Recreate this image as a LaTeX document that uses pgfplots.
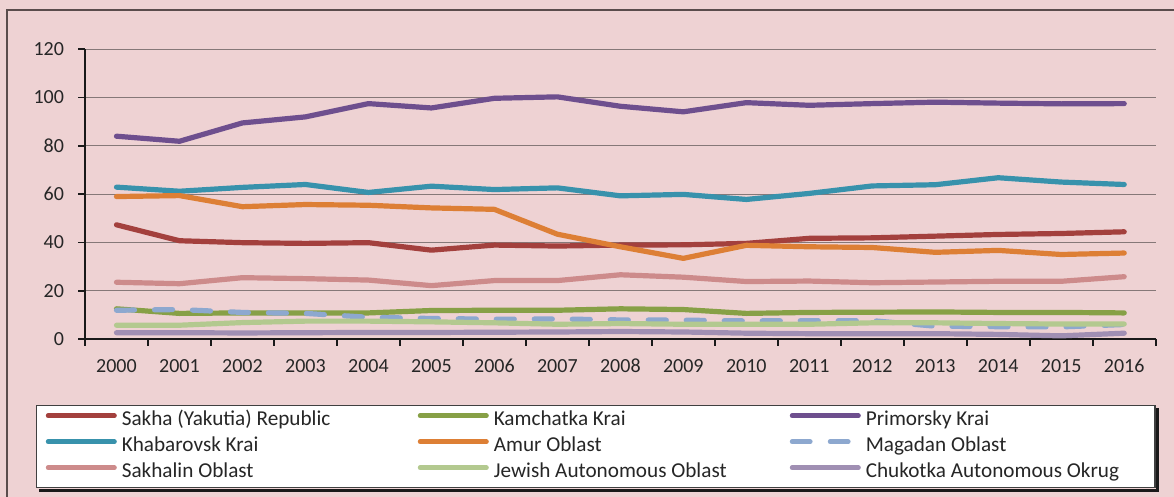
\documentclass[border=0pt]{standalone}
\usepackage{pgfplots}
\pgfplotsset{compat=1.18}
\usepackage{fontspec}
\setmainfont{Carlito}

\definecolor{bgPink}{HTML}{EED2D3}
\definecolor{frameGray}{HTML}{5A4C4C}
\definecolor{gridGray}{HTML}{857878}
\definecolor{cSakha}{HTML}{A3403D}
\definecolor{cKamch}{HTML}{87A046}
\definecolor{cPrim}{HTML}{6E4F8E}
\definecolor{cKhab}{HTML}{3892AC}
\definecolor{cAmur}{HTML}{DD7F35}
\definecolor{cMagad}{HTML}{8DA8CF}
\definecolor{cSakhl}{HTML}{CD8B8B}
\definecolor{cJew}{HTML}{B3C98F}
\definecolor{cChuk}{HTML}{A08FB3}

\newcommand{\lcol}[1]{\makebox[148pt][l]{#1}}
\newcommand{\lend}[1]{\makebox[140pt][l]{#1}}

\begin{document}
\begin{tikzpicture}[x=1pt,y=1pt]
\fill[bgPink] (0,0) rectangle (587,248.5);
\useasboundingbox (0,0) rectangle (587,248.5);
\draw[frameGray, line width=0.75pt] (3.5,-2) -- (3.5,243.5) -- (592,243.5);
\begin{axis}[
  at={(42.5pt,79pt)}, anchor=south west, scale only axis,
  width=535.35pt, height=144.85pt,
  xmin=-0.5, xmax=16.5, ymin=0, ymax=120,
  axis x line*=bottom, axis y line*=left,
  axis line style={black!90, line width=0.9pt},
  tick align=outside, major tick length=3.5pt, minor tick length=3.5pt,
  tick style={black!90, line width=0.9pt},
  xtick={0,...,16},
  xticklabels={2000,2001,2002,2003,2004,2005,2006,2007,2008,2009,2010,2011,2012,2013,2014,2015,2016},
  major x tick style={draw=none},
  minor xtick={-0.5,0.5,...,16.5},
  ytick={0,20,...,120},
  ymajorgrids, grid style={draw=gridGray, line width=0.6pt},
  /pgf/number format/assume math mode=true,
  tick label style={font=\fontsize{10}{12}\selectfont, text=black!85},
  xticklabel style={yshift=-3pt},
  yticklabel style={xshift=-3.5pt},
  no markers,
  every axis plot/.append style={line width=2.6pt, line cap=round, line join=round},
  legend columns=3, legend cell align=left,
  legend image code/.code={\draw[#1, line width=2.4pt] (1.2pt,2.5pt) -- (34.3pt,2.5pt);
    \coordinate (lA) at (0pt,0pt); \coordinate (lB) at (35.5pt,5pt);},
  legend style={name=leg, at={(-0.04576,-0.2278)}, anchor=north west,
    draw=black!75, line width=0.6pt, fill=white,
    inner xsep=4.6pt, inner ysep=3.35pt, row sep=4.6pt,
    font=\fontsize{10.6}{12}\selectfont, text=black!85,
    nodes={inner sep=0pt, text height=6.5pt, text depth=1.9pt},
    /tikz/every odd column/.append style={column sep=2.5pt}},
]
\addplot[cSakha] coordinates {(0,47.3) (1,40.7) (2,39.9) (3,39.6) (4,39.9) (5,36.8) (6,38.9) (7,38.5) (8,38.9) (9,39.0) (10,39.6) (11,41.7) (12,41.9) (13,42.6) (14,43.3) (15,43.7) (16,44.4)};
\addlegendentry{\lcol{Sakha (Yakutia) Republic}}
\addplot[cKamch] coordinates {(0,12.5) (1,10.6) (2,10.8) (3,10.8) (4,10.8) (5,11.8) (6,11.9) (7,11.9) (8,12.5) (9,12.2) (10,10.6) (11,11.0) (12,11.1) (13,11.2) (14,11.0) (15,11.0) (16,10.8)};
\addlegendentry{\lcol{Kamchatka Krai}}
\addplot[cPrim] coordinates {(0,84.0) (1,81.9) (2,89.5) (3,92.0) (4,97.5) (5,95.7) (6,99.7) (7,100.3) (8,96.4) (9,94.1) (10,97.9) (11,96.8) (12,97.5) (13,98.1) (14,97.7) (15,97.4) (16,97.5)};
\addlegendentry{\lend{Primorsky Krai}}
\addplot[cKhab] coordinates {(0,62.9) (1,61.2) (2,62.8) (3,64.0) (4,60.7) (5,63.3) (6,61.9) (7,62.6) (8,59.3) (9,59.9) (10,57.8) (11,60.3) (12,63.4) (13,63.9) (14,66.8) (15,65.0) (16,64.0)};
\addlegendentry{\lcol{Khabarovsk Krai}}
\addplot[cAmur] coordinates {(0,59.0) (1,59.4) (2,54.8) (3,55.7) (4,55.4) (5,54.3) (6,53.7) (7,43.4) (8,38.2) (9,33.4) (10,38.8) (11,38.2) (12,37.9) (13,35.9) (14,36.7) (15,35.0) (16,35.6)};
\addlegendentry{\lcol{Amur Oblast}}
\addplot[cMagad, dash pattern=on 9pt off 10pt] coordinates {(0,11.9) (1,12.2) (2,11.0) (3,10.6) (4,9.0) (5,8.5) (6,8.2) (7,8.3) (8,7.9) (9,7.8) (10,7.5) (11,7.6) (12,7.6) (13,5.3) (14,5.1) (15,5.0) (16,6.0)};
\addlegendentry{\lend{Magadan Oblast}}
\addplot[cSakhl] coordinates {(0,23.5) (1,22.9) (2,25.4) (3,25.0) (4,24.4) (5,22.1) (6,24.2) (7,24.2) (8,26.6) (9,25.6) (10,23.8) (11,24.0) (12,23.3) (13,23.6) (14,23.9) (15,23.9) (16,25.8)};
\addlegendentry{\lcol{Sakhalin Oblast}}
\addplot[cJew] coordinates {(0,5.7) (1,5.7) (2,6.8) (3,7.4) (4,7.4) (5,7.1) (6,6.7) (7,6.1) (8,6.4) (9,6.1) (10,6.1) (11,6.1) (12,6.7) (13,6.7) (14,6.4) (15,6.2) (16,6.2)};
\addlegendentry{\lcol{Jewish Autonomous Oblast}}
\addplot[cChuk] coordinates {(0,2.6) (1,2.6) (2,2.5) (3,2.6) (4,2.7) (5,2.7) (6,2.8) (7,2.9) (8,3.1) (9,2.9) (10,2.4) (11,2.2) (12,2.2) (13,2.2) (14,1.9) (15,1.3) (16,2.4)};
\addlegendentry{\lend{Chukotka Autonomous Okrug}}
\end{axis}
% shadow strips of the legend box
\fill[black!90] ([xshift=1.4pt,yshift=-1.7pt]leg.south west) rectangle ([xshift=1.7pt,yshift=-0.3pt]leg.south east);
\fill[black!90] ([xshift=0.3pt,yshift=-1.7pt]leg.south east) rectangle ([xshift=1.7pt,yshift=-1.4pt]leg.north east);
\end{tikzpicture}
\end{document}
